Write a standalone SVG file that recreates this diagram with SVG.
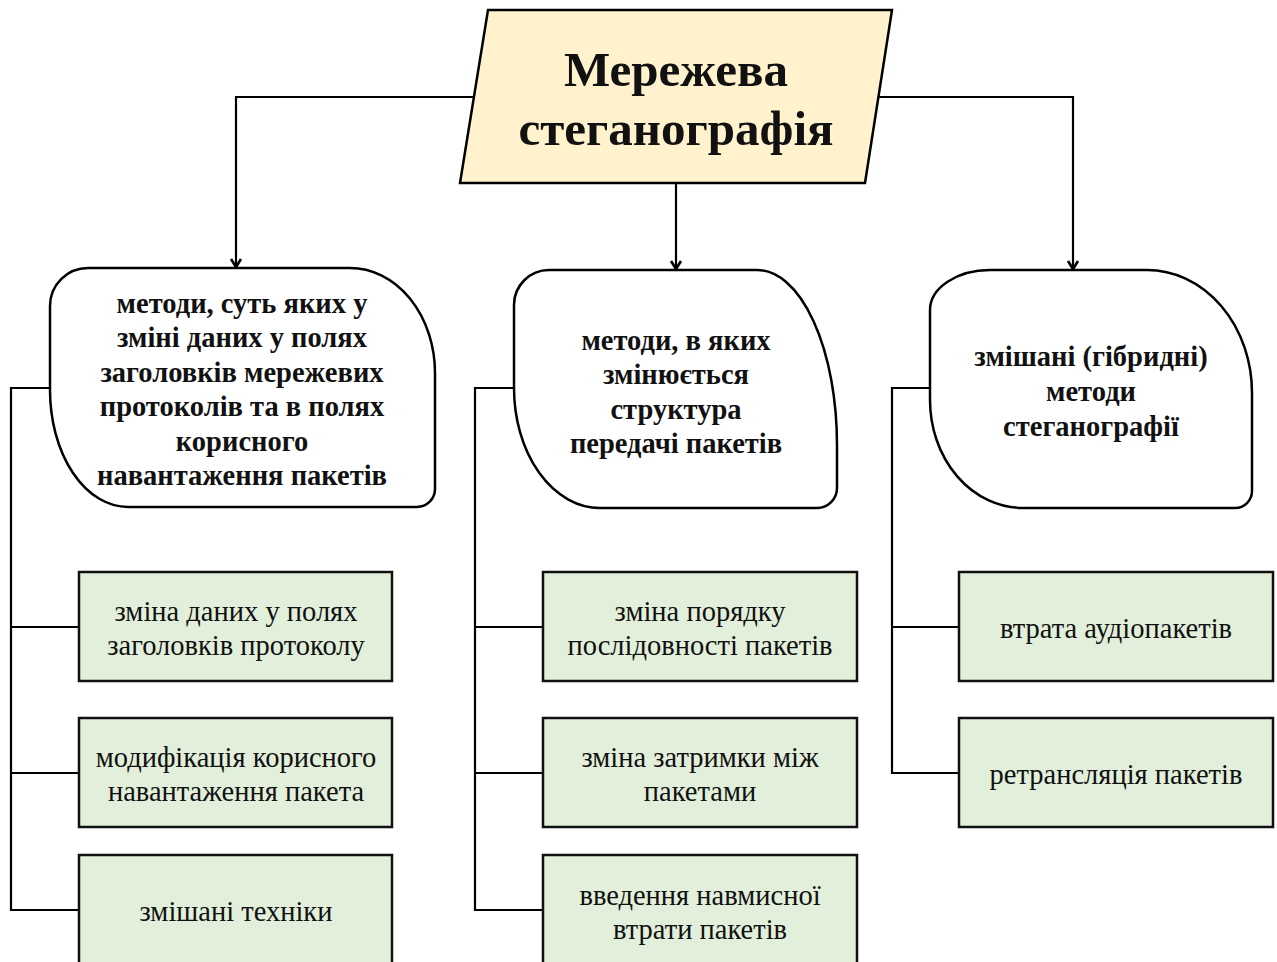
<svg xmlns="http://www.w3.org/2000/svg" width="1277" height="962" viewBox="0 0 1277 962">
<style>
.ln{fill:none;stroke:#000;stroke-width:2.2}
.nd{fill:#fff;stroke:#000;stroke-width:2.5}
.gb{fill:#e2efda;stroke:#111;stroke-width:2.5}
.tb{font-family:"Liberation Serif","Times New Roman",serif;font-weight:bold;font-size:28.5px;fill:#111;text-anchor:middle}
.tr{font-family:"Liberation Serif","Times New Roman",serif;font-size:28.5px;fill:#111;text-anchor:middle}
.tt{font-family:"Liberation Serif","Times New Roman",serif;font-weight:bold;font-size:49px;fill:#111;text-anchor:middle}
</style>
<defs>
<marker id="arr" markerWidth="14" markerHeight="14" refX="11" refY="7" orient="auto" markerUnits="userSpaceOnUse" viewBox="0 0 14 14">
<path d="M3,2 L11,7 L3,12" fill="none" stroke="#000" stroke-width="2.6"/>
</marker>
</defs>
<rect width="1277" height="962" fill="#fff"/>
<g id="connectors">
<polyline class="ln" points="475,97 236,97 236,267" marker-end="url(#arr)"/>
<polyline class="ln" points="878,97 1073,97 1073,269" marker-end="url(#arr)"/>
<polyline class="ln" points="676,183 676,269" marker-end="url(#arr)"/>
<polyline class="ln" points="50,388 11,388 11,910 79,910"/>
<line class="ln" x1="11" y1="627" x2="79" y2="627"/>
<line class="ln" x1="11" y1="773" x2="79" y2="773"/>
<polyline class="ln" points="514,388 475,388 475,910 542,910"/>
<line class="ln" x1="475" y1="627" x2="542" y2="627"/>
<line class="ln" x1="475" y1="773" x2="542" y2="773"/>
<polyline class="ln" points="930,388 892,388 892,773 959,773"/>
<line class="ln" x1="892" y1="627" x2="959" y2="627"/>
</g>
<g id="root">
<polygon points="488,10 892,10 865,183 460,183" fill="#fff2cc" stroke="#000" stroke-width="2.5"/>
<text class="tt" x="676" y="86">Мережева</text>
<text class="tt" x="676" y="145">стеганографія</text>
</g>
<g id="node-a">
<path class="nd" d="M88,268 H350 A85 105 0 0 1 435,373 V489 A18 18 0 0 1 417,507 H128 A78 117 0 0 1 50,390 V306 A38 38 0 0 1 88,268 Z"/>
<text class="tb" x="242" y="313">методи, суть яких у</text>
<text class="tb" x="242" y="347">зміні даних у полях</text>
<text class="tb" x="242" y="382">заголовків мережевих</text>
<text class="tb" x="242" y="416">протоколів та в полях</text>
<text class="tb" x="242" y="451">корисного</text>
<text class="tb" x="242" y="485">навантаження пакетів</text>
</g>
<g id="node-b">
<path class="nd" d="M549,270 H757 A80 175 0 0 1 837,445 V488 A20 20 0 0 1 817,508 H600 A86 120 0 0 1 514,388 V305 A35 35 0 0 1 549,270 Z"/>
<text class="tb" x="676" y="350">методи, в яких</text>
<text class="tb" x="676" y="384">змінюється</text>
<text class="tb" x="676" y="419">структура</text>
<text class="tb" x="676" y="453">передачі пакетів</text>
</g>
<g id="node-c">
<path class="nd" d="M990,270 H1147 A105 123 0 0 1 1252,393 V491 A17 17 0 0 1 1235,508 H1023 A93 108 0 0 1 930,400 V310 A60 40 0 0 1 990,270 Z"/>
<text class="tb" x="1091" y="366">змішані (гібридні)</text>
<text class="tb" x="1091" y="401">методи</text>
<text class="tb" x="1091" y="436">стеганографії</text>
</g>
<g id="a1"><rect class="gb" x="79" y="572" width="313" height="109"/>
<text class="tr" x="236" y="621">зміна даних у полях</text><text class="tr" x="236" y="655">заголовків протоколу</text></g>
<g id="a2"><rect class="gb" x="79" y="718" width="313" height="109"/>
<text class="tr" x="236" y="767">модифікація корисного</text><text class="tr" x="236" y="801">навантаження пакета</text></g>
<g id="a3"><rect class="gb" x="79" y="855" width="313" height="120"/>
<text class="tr" x="236" y="921">змішані техніки</text></g>
<g id="b1"><rect class="gb" x="543" y="572" width="314" height="109"/>
<text class="tr" x="700" y="621">зміна порядку</text><text class="tr" x="700" y="655">послідовності пакетів</text></g>
<g id="b2"><rect class="gb" x="543" y="718" width="314" height="109"/>
<text class="tr" x="700" y="767">зміна затримки між</text><text class="tr" x="700" y="801">пакетами</text></g>
<g id="b3"><rect class="gb" x="543" y="855" width="314" height="120"/>
<text class="tr" x="700" y="905">введення навмисної</text><text class="tr" x="700" y="939">втрати пакетів</text></g>
<g id="c1"><rect class="gb" x="959" y="572" width="314" height="109"/>
<text class="tr" x="1116" y="638">втрата аудіопакетів</text></g>
<g id="c2"><rect class="gb" x="959" y="718" width="314" height="109"/>
<text class="tr" x="1116" y="784">ретрансляція пакетів</text></g>
</svg>
